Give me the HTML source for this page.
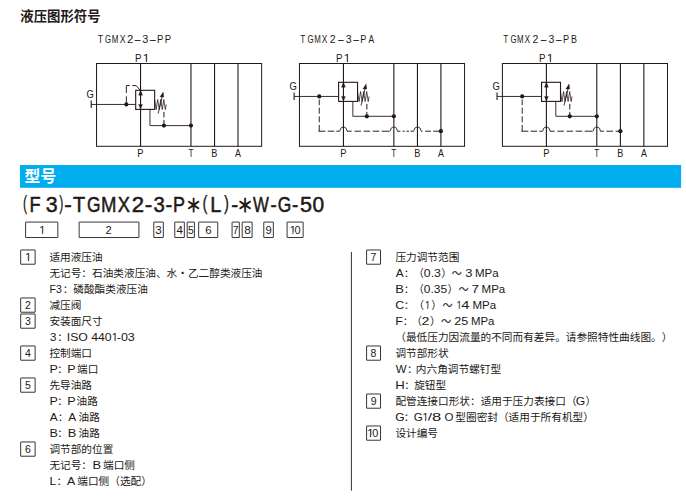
<!DOCTYPE html>
<html lang="zh-CN"><head><meta charset="utf-8"><title>型号</title>
<style>
html,body{margin:0;padding:0;background:#fff}
body{width:686px;height:503px;overflow:hidden;position:relative}
svg{position:absolute;left:0;top:0;display:block}
text{font-kerning:none;white-space:pre;text-spacing-trim:space-all}
</style></head><body>
<svg width="686" height="503" viewBox="0 0 686 503">
<text font-family='"Liberation Sans", "Noto Sans CJK SC", sans-serif' fill="#231815"><tspan x="20.30" y="21.20" font-size="13.4" font-weight="bold">液压图形符号</tspan></text>
<rect x="20" y="165" width="661.1" height="22.8" fill="#00adee"/>
<text font-family='"Liberation Sans", "Noto Sans CJK SC", sans-serif' fill="#231815"><tspan x="24.60" y="182.20" font-size="15.8" font-weight="bold" fill="#fff">型号</tspan></text>
<rect x="96.55" y="63.5" width="165.1" height="82.80" fill="none" stroke="#231815" stroke-width="1"/>
<line x1="140.55" y1="63.50" x2="140.55" y2="146.30" stroke="#231815" stroke-width="1.1" />
<line x1="190.95" y1="63.50" x2="190.95" y2="146.30" stroke="#231815" stroke-width="1.1" />
<line x1="214.55" y1="63.50" x2="214.55" y2="146.30" stroke="#231815" stroke-width="1.1" />
<line x1="238.00" y1="63.50" x2="238.00" y2="146.30" stroke="#231815" stroke-width="1.1" />
<rect x="135.70" y="90.30" width="18.95" height="19.10" fill="none" stroke="#231815" stroke-width="1.1"/>
<line x1="91.20" y1="100.45" x2="91.20" y2="107.95" stroke="#231815" stroke-width="1.1" />
<line x1="91.20" y1="104.45" x2="135.70" y2="104.45" stroke="#231815" stroke-width="0.9" />
<path d="M140.55,90.10 L138.60,95.30 L142.50,95.30 Z" stroke="#231815" stroke-width="0.3" fill="#231815" />
<path d="M140.55,109.10 L138.60,104.40 L142.50,104.40 Z" stroke="#231815" stroke-width="0.3" fill="#231815" />
<path d="M154.65,99.80 L156.18,109.60 L157.70,99.50 L159.22,109.60 L160.75,99.50 L162.28,109.60 L163.80,99.50 L165.33,109.60 L166.18,104.50" stroke="#231815" stroke-width="0.75" fill="none" stroke-linejoin="miter" stroke-miterlimit="10"/>
<line x1="158.15" y1="113.60" x2="162.25" y2="96.50" stroke="#231815" stroke-width="0.85" />
<path d="M163.20,91.90 L159.95,97.00 L163.85,97.10 Z" stroke="#231815" stroke-width="0.3" fill="#231815" />
<path d="M149.95,109.40 L149.95,125.60 L190.95,125.60" stroke="#231815" stroke-width="0.9" fill="none" />
<line x1="163.95" y1="111.90" x2="163.95" y2="125.60" stroke="#231815" stroke-width="1.0" stroke-dasharray="5.6 2.4"/>
<circle cx="163.95" cy="125.60" r="2.1" fill="#231815"/>
<circle cx="190.95" cy="125.60" r="2.1" fill="#231815"/>
<circle cx="126.35" cy="104.45" r="2.1" fill="#231815"/>
<path d="M126.35,104.45 L126.35,96.25 M126.35,92.95 L126.35,85.60 L129.75,85.60 M132.15,85.60 L136.20,85.60 L140.05,90.10" stroke="#231815" stroke-width="0.95" fill="none" stroke-linejoin="miter"/>
<text font-family='"Liberation Sans", "Noto Sans CJK SC", sans-serif' fill="#231815"><tspan x="97.82" y="43.10" font-size="10.4" textLength="5.46" lengthAdjust="spacingAndGlyphs">T</tspan><tspan x="104.91" y="43.10" font-size="10.4" textLength="6.05" lengthAdjust="spacingAndGlyphs">G</tspan><tspan x="111.66" y="43.10" font-size="10.4" textLength="6.68" lengthAdjust="spacingAndGlyphs">M</tspan><tspan x="119.70" y="43.10" font-size="10.4" textLength="5.87" lengthAdjust="spacingAndGlyphs">X</tspan><tspan x="127.13" y="43.10" font-size="10.4" textLength="6.31" lengthAdjust="spacingAndGlyphs">2</tspan><tspan x="133.57" y="43.10" font-size="10.4" textLength="8.06" lengthAdjust="spacingAndGlyphs">-</tspan><tspan x="142.39" y="43.10" font-size="10.4" textLength="6.08" lengthAdjust="spacingAndGlyphs">3</tspan><tspan x="148.87" y="43.10" font-size="10.4" textLength="8.06" lengthAdjust="spacingAndGlyphs">-</tspan><tspan x="157.04" y="43.10" font-size="10.4" textLength="6.36" lengthAdjust="spacingAndGlyphs">P</tspan><tspan x="164.74" y="43.10" font-size="10.4" textLength="6.36" lengthAdjust="spacingAndGlyphs">P</tspan></text>
<text font-family='"Liberation Sans", "Noto Sans CJK SC", sans-serif' fill="#231815"><tspan x="137.30" y="156.90" font-size="10.3" textLength="6.24" lengthAdjust="spacingAndGlyphs">P</tspan></text>
<text font-family='"Liberation Sans", "Noto Sans CJK SC", sans-serif' fill="#231815"><tspan x="188.44" y="156.90" font-size="10.3" textLength="5.03" lengthAdjust="spacingAndGlyphs">T</tspan></text>
<text font-family='"Liberation Sans", "Noto Sans CJK SC", sans-serif' fill="#231815"><tspan x="211.37" y="156.90" font-size="10.3" textLength="6.11" lengthAdjust="spacingAndGlyphs">B</tspan></text>
<text font-family='"Liberation Sans", "Noto Sans CJK SC", sans-serif' fill="#231815"><tspan x="235.05" y="156.90" font-size="10.3" textLength="5.92" lengthAdjust="spacingAndGlyphs">A</tspan></text>
<text font-family='"Liberation Sans", "Noto Sans CJK SC", sans-serif' fill="#231815"><tspan x="86.43" y="97.90" font-size="10.4" textLength="7.36" lengthAdjust="spacingAndGlyphs">G</tspan></text>
<text font-family='"Liberation Sans", "Noto Sans CJK SC", sans-serif' fill="#231815"><tspan x="135.12" y="61.85" font-size="10.5" textLength="6.49" lengthAdjust="spacingAndGlyphs">P</tspan><tspan x="142.82" y="61.85" font-size="10.5" textLength="6.85" lengthAdjust="spacingAndGlyphs">1</tspan></text>
<rect x="299.45" y="63.5" width="165.1" height="82.80" fill="none" stroke="#231815" stroke-width="1"/>
<line x1="343.45" y1="63.50" x2="343.45" y2="146.30" stroke="#231815" stroke-width="1.1" />
<line x1="393.85" y1="63.50" x2="393.85" y2="146.30" stroke="#231815" stroke-width="1.1" />
<line x1="417.45" y1="63.50" x2="417.45" y2="146.30" stroke="#231815" stroke-width="1.1" />
<line x1="440.90" y1="63.50" x2="440.90" y2="146.30" stroke="#231815" stroke-width="1.1" />
<rect x="338.60" y="82.30" width="18.95" height="19.10" fill="none" stroke="#231815" stroke-width="1.1"/>
<line x1="294.10" y1="92.45" x2="294.10" y2="99.95" stroke="#231815" stroke-width="1.1" />
<line x1="294.10" y1="96.45" x2="338.60" y2="96.45" stroke="#231815" stroke-width="0.9" />
<path d="M343.45,82.10 L341.50,87.30 L345.40,87.30 Z" stroke="#231815" stroke-width="0.3" fill="#231815" />
<path d="M343.45,101.10 L341.50,96.40 L345.40,96.40 Z" stroke="#231815" stroke-width="0.3" fill="#231815" />
<path d="M357.55,91.80 L359.07,101.60 L360.60,91.50 L362.12,101.60 L363.65,91.50 L365.18,101.60 L366.70,91.50 L368.23,101.60 L369.08,96.50" stroke="#231815" stroke-width="0.75" fill="none" stroke-linejoin="miter" stroke-miterlimit="10"/>
<line x1="361.05" y1="105.60" x2="365.15" y2="88.50" stroke="#231815" stroke-width="0.85" />
<path d="M366.10,83.90 L362.85,89.00 L366.75,89.10 Z" stroke="#231815" stroke-width="0.3" fill="#231815" />
<path d="M352.85,101.40 L352.85,116.30 L393.85,116.30" stroke="#231815" stroke-width="0.9" fill="none" />
<line x1="366.85" y1="103.90" x2="366.85" y2="116.30" stroke="#231815" stroke-width="1.0" stroke-dasharray="5.6 2.4"/>
<circle cx="366.85" cy="116.30" r="2.1" fill="#231815"/>
<circle cx="393.85" cy="116.30" r="2.1" fill="#231815"/>
<circle cx="319.25" cy="96.45" r="2.1" fill="#231815"/>
<path d="M319.25,131.20 L319.25,124.90 M319.25,122.30 L319.25,116.30 M319.25,113.70 L319.25,107.70 M319.25,105.20 L319.25,99.60 M319.25,97.50 L319.25,96.45 M318.45,131.20 L325.40,131.20 M327.70,131.20 L334.20,131.20 M336.30,131.20 L339.60,131.20 M347.00,131.20 L351.70,131.20 M354.50,131.20 L361.00,131.20 M363.70,131.20 L370.10,131.20 M372.70,131.20 L379.30,131.20 M381.70,131.20 L389.60,131.20 M397.40,131.20 L400.40,131.20 M402.60,131.20 L404.80,131.20 M406.40,131.20 L409.00,131.20 M410.60,131.20 L413.50,131.20 M421.20,131.20 L422.50,131.20 M425.20,131.20 L431.00,131.20 M433.20,131.20 L439.50,131.20" stroke="#231815" stroke-width="0.95" fill="none" />
<path d="M339.50,131.20 C340.30,131.10 340.10,129.00 340.85,128.15 C341.55,127.40 342.55,127.10 343.45,127.10 C344.35,127.10 345.35,127.40 346.05,128.15 C346.80,129.00 346.60,131.10 347.40,131.20" stroke="#231815" stroke-width="0.9" fill="none" />
<path d="M389.90,131.20 C390.70,131.10 390.50,129.00 391.25,128.15 C391.95,127.40 392.95,127.10 393.85,127.10 C394.75,127.10 395.75,127.40 396.45,128.15 C397.20,129.00 397.00,131.10 397.80,131.20" stroke="#231815" stroke-width="0.9" fill="none" />
<path d="M413.50,131.20 C414.30,131.10 414.10,129.00 414.85,128.15 C415.55,127.40 416.55,127.10 417.45,127.10 C418.35,127.10 419.35,127.40 420.05,128.15 C420.80,129.00 420.60,131.10 421.40,131.20" stroke="#231815" stroke-width="0.9" fill="none" />
<circle cx="440.90" cy="131.20" r="2.1" fill="#231815"/>
<text font-family='"Liberation Sans", "Noto Sans CJK SC", sans-serif' fill="#231815"><tspan x="300.34" y="43.10" font-size="10.4" textLength="5.03" lengthAdjust="spacingAndGlyphs">T</tspan><tspan x="307.61" y="43.10" font-size="10.4" textLength="6.05" lengthAdjust="spacingAndGlyphs">G</tspan><tspan x="314.27" y="43.10" font-size="10.4" textLength="6.56" lengthAdjust="spacingAndGlyphs">M</tspan><tspan x="321.71" y="43.10" font-size="10.4" textLength="5.66" lengthAdjust="spacingAndGlyphs">X</tspan><tspan x="329.78" y="43.10" font-size="10.4" textLength="5.82" lengthAdjust="spacingAndGlyphs">2</tspan><tspan x="337.02" y="43.10" font-size="10.4" textLength="7.66" lengthAdjust="spacingAndGlyphs">-</tspan><tspan x="345.81" y="43.10" font-size="10.4" textLength="5.84" lengthAdjust="spacingAndGlyphs">3</tspan><tspan x="352.32" y="43.10" font-size="10.4" textLength="7.66" lengthAdjust="spacingAndGlyphs">-</tspan><tspan x="360.27" y="43.10" font-size="10.4" textLength="6.11" lengthAdjust="spacingAndGlyphs">P</tspan><tspan x="368.50" y="43.10" font-size="10.4" textLength="5.62" lengthAdjust="spacingAndGlyphs">A</tspan></text>
<text font-family='"Liberation Sans", "Noto Sans CJK SC", sans-serif' fill="#231815"><tspan x="340.20" y="156.90" font-size="10.3" textLength="6.24" lengthAdjust="spacingAndGlyphs">P</tspan></text>
<text font-family='"Liberation Sans", "Noto Sans CJK SC", sans-serif' fill="#231815"><tspan x="391.34" y="156.90" font-size="10.3" textLength="5.03" lengthAdjust="spacingAndGlyphs">T</tspan></text>
<text font-family='"Liberation Sans", "Noto Sans CJK SC", sans-serif' fill="#231815"><tspan x="414.27" y="156.90" font-size="10.3" textLength="6.11" lengthAdjust="spacingAndGlyphs">B</tspan></text>
<text font-family='"Liberation Sans", "Noto Sans CJK SC", sans-serif' fill="#231815"><tspan x="437.95" y="156.90" font-size="10.3" textLength="5.92" lengthAdjust="spacingAndGlyphs">A</tspan></text>
<text font-family='"Liberation Sans", "Noto Sans CJK SC", sans-serif' fill="#231815"><tspan x="289.43" y="89.90" font-size="10.4" textLength="7.36" lengthAdjust="spacingAndGlyphs">G</tspan></text>
<text font-family='"Liberation Sans", "Noto Sans CJK SC", sans-serif' fill="#231815"><tspan x="336.12" y="61.85" font-size="10.5" textLength="6.49" lengthAdjust="spacingAndGlyphs">P</tspan><tspan x="343.84" y="61.85" font-size="10.5" textLength="6.73" lengthAdjust="spacingAndGlyphs">1</tspan></text>
<rect x="502.40" y="63.5" width="165.1" height="82.80" fill="none" stroke="#231815" stroke-width="1"/>
<line x1="546.40" y1="63.50" x2="546.40" y2="146.30" stroke="#231815" stroke-width="1.1" />
<line x1="596.80" y1="63.50" x2="596.80" y2="146.30" stroke="#231815" stroke-width="1.1" />
<line x1="620.40" y1="63.50" x2="620.40" y2="146.30" stroke="#231815" stroke-width="1.1" />
<line x1="643.85" y1="63.50" x2="643.85" y2="146.30" stroke="#231815" stroke-width="1.1" />
<rect x="541.55" y="82.30" width="18.95" height="19.10" fill="none" stroke="#231815" stroke-width="1.1"/>
<line x1="497.05" y1="92.45" x2="497.05" y2="99.95" stroke="#231815" stroke-width="1.1" />
<line x1="497.05" y1="96.45" x2="541.55" y2="96.45" stroke="#231815" stroke-width="0.9" />
<path d="M546.40,82.10 L544.45,87.30 L548.35,87.30 Z" stroke="#231815" stroke-width="0.3" fill="#231815" />
<path d="M546.40,101.10 L544.45,96.40 L548.35,96.40 Z" stroke="#231815" stroke-width="0.3" fill="#231815" />
<path d="M560.50,91.80 L562.02,101.60 L563.55,91.50 L565.08,101.60 L566.60,91.50 L568.12,101.60 L569.65,91.50 L571.17,101.60 L572.02,96.50" stroke="#231815" stroke-width="0.75" fill="none" stroke-linejoin="miter" stroke-miterlimit="10"/>
<line x1="564.00" y1="105.60" x2="568.10" y2="88.50" stroke="#231815" stroke-width="0.85" />
<path d="M569.05,83.90 L565.80,89.00 L569.70,89.10 Z" stroke="#231815" stroke-width="0.3" fill="#231815" />
<path d="M555.80,101.40 L555.80,116.30 L596.80,116.30" stroke="#231815" stroke-width="0.9" fill="none" />
<line x1="569.80" y1="103.90" x2="569.80" y2="116.30" stroke="#231815" stroke-width="1.0" stroke-dasharray="5.6 2.4"/>
<circle cx="569.80" cy="116.30" r="2.1" fill="#231815"/>
<circle cx="596.80" cy="116.30" r="2.1" fill="#231815"/>
<circle cx="522.20" cy="96.45" r="2.1" fill="#231815"/>
<path d="M522.20,131.20 L522.20,124.90 M522.20,122.30 L522.20,116.30 M522.20,113.70 L522.20,107.70 M522.20,105.20 L522.20,99.60 M522.20,97.50 L522.20,96.45 M521.40,131.20 L528.35,131.20 M530.65,131.20 L537.15,131.20 M539.25,131.20 L542.55,131.20 M549.95,131.20 L554.65,131.20 M557.45,131.20 L563.95,131.20 M566.65,131.20 L573.05,131.20 M575.65,131.20 L582.25,131.20 M584.65,131.20 L592.55,131.20 M600.35,131.20 L603.95,131.20 M606.45,131.20 L613.15,131.20 M615.65,131.20 L620.35,131.20" stroke="#231815" stroke-width="0.95" fill="none" />
<path d="M542.45,131.20 C543.25,131.10 543.05,129.00 543.80,128.15 C544.50,127.40 545.50,127.10 546.40,127.10 C547.30,127.10 548.30,127.40 549.00,128.15 C549.75,129.00 549.55,131.10 550.35,131.20" stroke="#231815" stroke-width="0.9" fill="none" />
<path d="M592.85,131.20 C593.65,131.10 593.45,129.00 594.20,128.15 C594.90,127.40 595.90,127.10 596.80,127.10 C597.70,127.10 598.70,127.40 599.40,128.15 C600.15,129.00 599.95,131.10 600.75,131.20" stroke="#231815" stroke-width="0.9" fill="none" />
<circle cx="620.40" cy="131.20" r="2.1" fill="#231815"/>
<text font-family='"Liberation Sans", "Noto Sans CJK SC", sans-serif' fill="#231815"><tspan x="503.14" y="43.10" font-size="10.4" textLength="5.03" lengthAdjust="spacingAndGlyphs">T</tspan><tspan x="510.41" y="43.10" font-size="10.4" textLength="6.05" lengthAdjust="spacingAndGlyphs">G</tspan><tspan x="517.07" y="43.10" font-size="10.4" textLength="6.56" lengthAdjust="spacingAndGlyphs">M</tspan><tspan x="524.51" y="43.10" font-size="10.4" textLength="5.66" lengthAdjust="spacingAndGlyphs">X</tspan><tspan x="532.58" y="43.10" font-size="10.4" textLength="5.82" lengthAdjust="spacingAndGlyphs">2</tspan><tspan x="539.82" y="43.10" font-size="10.4" textLength="7.66" lengthAdjust="spacingAndGlyphs">-</tspan><tspan x="548.61" y="43.10" font-size="10.4" textLength="5.84" lengthAdjust="spacingAndGlyphs">3</tspan><tspan x="555.12" y="43.10" font-size="10.4" textLength="7.66" lengthAdjust="spacingAndGlyphs">-</tspan><tspan x="563.07" y="43.10" font-size="10.4" textLength="6.11" lengthAdjust="spacingAndGlyphs">P</tspan><tspan x="570.98" y="43.10" font-size="10.4" textLength="5.99" lengthAdjust="spacingAndGlyphs">B</tspan></text>
<text font-family='"Liberation Sans", "Noto Sans CJK SC", sans-serif' fill="#231815"><tspan x="543.15" y="156.90" font-size="10.3" textLength="6.24" lengthAdjust="spacingAndGlyphs">P</tspan></text>
<text font-family='"Liberation Sans", "Noto Sans CJK SC", sans-serif' fill="#231815"><tspan x="594.29" y="156.90" font-size="10.3" textLength="5.03" lengthAdjust="spacingAndGlyphs">T</tspan></text>
<text font-family='"Liberation Sans", "Noto Sans CJK SC", sans-serif' fill="#231815"><tspan x="617.22" y="156.90" font-size="10.3" textLength="6.11" lengthAdjust="spacingAndGlyphs">B</tspan></text>
<text font-family='"Liberation Sans", "Noto Sans CJK SC", sans-serif' fill="#231815"><tspan x="640.90" y="156.90" font-size="10.3" textLength="5.92" lengthAdjust="spacingAndGlyphs">A</tspan></text>
<text font-family='"Liberation Sans", "Noto Sans CJK SC", sans-serif' fill="#231815"><tspan x="492.43" y="89.90" font-size="10.4" textLength="7.36" lengthAdjust="spacingAndGlyphs">G</tspan></text>
<text font-family='"Liberation Sans", "Noto Sans CJK SC", sans-serif' fill="#231815"><tspan x="539.12" y="61.85" font-size="10.5" textLength="6.49" lengthAdjust="spacingAndGlyphs">P</tspan><tspan x="546.84" y="61.85" font-size="10.5" textLength="6.73" lengthAdjust="spacingAndGlyphs">1</tspan></text>
<text font-family='"Liberation Sans", "Noto Sans CJK SC", sans-serif' fill="#231815"><tspan x="22.96" y="210.21" font-size="19.73" textLength="4.10" lengthAdjust="spacingAndGlyphs" stroke="#231815" stroke-width="0.25" stroke-linejoin="round">(</tspan><tspan x="29.59" y="212.30" font-size="22.0" textLength="11.15" lengthAdjust="spacingAndGlyphs" stroke="#231815" stroke-width="0.5" stroke-linejoin="round">F</tspan><tspan x="45.84" y="212.30" font-size="22.0" textLength="11.92" lengthAdjust="spacingAndGlyphs" stroke="#231815" stroke-width="0.5" stroke-linejoin="round">3</tspan><tspan x="59.34" y="210.21" font-size="19.73" textLength="4.10" lengthAdjust="spacingAndGlyphs" stroke="#231815" stroke-width="0.25" stroke-linejoin="round">)</tspan><tspan x="64.29" y="212.30" font-size="22.0" textLength="7.52" lengthAdjust="spacingAndGlyphs" stroke="#231815" stroke-width="0.5" stroke-linejoin="round">-</tspan><tspan x="73.05" y="212.30" font-size="22.0" textLength="12.20" lengthAdjust="spacingAndGlyphs" stroke="#231815" stroke-width="0.5" stroke-linejoin="round">T</tspan><tspan x="86.98" y="212.30" font-size="22.0" textLength="13.53" lengthAdjust="spacingAndGlyphs" stroke="#231815" stroke-width="0.5" stroke-linejoin="round">G</tspan><tspan x="101.06" y="212.30" font-size="22.0" textLength="15.47" lengthAdjust="spacingAndGlyphs" stroke="#231815" stroke-width="0.5" stroke-linejoin="round">M</tspan><tspan x="117.74" y="212.30" font-size="22.0" textLength="12.18" lengthAdjust="spacingAndGlyphs" stroke="#231815" stroke-width="0.5" stroke-linejoin="round">X</tspan><tspan x="131.74" y="212.30" font-size="22.0" textLength="12.37" lengthAdjust="spacingAndGlyphs" stroke="#231815" stroke-width="0.5" stroke-linejoin="round">2</tspan><tspan x="144.69" y="212.30" font-size="22.0" textLength="7.52" lengthAdjust="spacingAndGlyphs" stroke="#231815" stroke-width="0.5" stroke-linejoin="round">-</tspan><tspan x="153.58" y="212.30" font-size="22.0" textLength="11.33" lengthAdjust="spacingAndGlyphs" stroke="#231815" stroke-width="0.5" stroke-linejoin="round">3</tspan><tspan x="165.59" y="212.30" font-size="22.0" textLength="6.72" lengthAdjust="spacingAndGlyphs" stroke="#231815" stroke-width="0.5" stroke-linejoin="round">-</tspan><tspan x="173.11" y="212.30" font-size="22.0" textLength="11.98" lengthAdjust="spacingAndGlyphs" stroke="#231815" stroke-width="0.5" stroke-linejoin="round">P</tspan><tspan x="185.90" y="212.45" font-size="18.2" stroke="#231815" stroke-width="0.9" textLength="15.16" lengthAdjust="spacingAndGlyphs">＊</tspan><tspan x="202.60" y="210.21" font-size="19.73" textLength="4.97" lengthAdjust="spacingAndGlyphs" stroke="#231815" stroke-width="0.25" stroke-linejoin="round">(</tspan><tspan x="210.15" y="212.30" font-size="22.0" textLength="11.10" lengthAdjust="spacingAndGlyphs" stroke="#231815" stroke-width="0.5" stroke-linejoin="round">L</tspan><tspan x="224.03" y="210.21" font-size="19.73" textLength="4.97" lengthAdjust="spacingAndGlyphs" stroke="#231815" stroke-width="0.25" stroke-linejoin="round">)</tspan><tspan x="231.16" y="212.30" font-size="22.0" textLength="6.99" lengthAdjust="spacingAndGlyphs" stroke="#231815" stroke-width="0.5" stroke-linejoin="round">-</tspan><tspan x="237.33" y="212.45" font-size="18.2" stroke="#231815" stroke-width="0.9" textLength="15.60" lengthAdjust="spacingAndGlyphs">＊</tspan><tspan x="253.11" y="212.30" font-size="22.0" textLength="15.88" lengthAdjust="spacingAndGlyphs" stroke="#231815" stroke-width="0.5" stroke-linejoin="round">W</tspan><tspan x="270.46" y="212.30" font-size="22.0" textLength="6.18" lengthAdjust="spacingAndGlyphs" stroke="#231815" stroke-width="0.5" stroke-linejoin="round">-</tspan><tspan x="277.78" y="212.30" font-size="22.0" textLength="13.53" lengthAdjust="spacingAndGlyphs" stroke="#231815" stroke-width="0.5" stroke-linejoin="round">G</tspan><tspan x="291.94" y="212.30" font-size="22.0" textLength="6.31" lengthAdjust="spacingAndGlyphs" stroke="#231815" stroke-width="0.5" stroke-linejoin="round">-</tspan><tspan x="299.88" y="212.30" font-size="22.0" textLength="12.03" lengthAdjust="spacingAndGlyphs" stroke="#231815" stroke-width="0.5" stroke-linejoin="round">5</tspan><tspan x="312.56" y="212.30" font-size="22.0" textLength="11.68" lengthAdjust="spacingAndGlyphs" stroke="#231815" stroke-width="0.5" stroke-linejoin="round">0</tspan></text>
<rect x="25.58" y="222.07" width="32.25" height="15.45" rx="0.15" fill="none" stroke="#2e2a29" stroke-width="0.95"/>
<text font-family='"Liberation Sans", "Noto Sans CJK SC", sans-serif' fill="#231815"><tspan x="39.33" y="233.80" font-size="11.7" textLength="6.16" lengthAdjust="spacingAndGlyphs">1</tspan></text>
<rect x="79.17" y="222.07" width="59.75" height="15.45" rx="0.15" fill="none" stroke="#2e2a29" stroke-width="0.95"/>
<text font-family='"Liberation Sans", "Noto Sans CJK SC", sans-serif' fill="#231815"><tspan x="105.44" y="233.80" font-size="11.7" textLength="6.19" lengthAdjust="spacingAndGlyphs">2</tspan></text>
<rect x="153.78" y="222.07" width="9.55" height="15.45" rx="0.15" fill="none" stroke="#2e2a29" stroke-width="0.95"/>
<text font-family='"Liberation Sans", "Noto Sans CJK SC", sans-serif' fill="#231815"><tspan x="155.37" y="233.80" font-size="11.7" textLength="6.43" lengthAdjust="spacingAndGlyphs">3</tspan></text>
<rect x="174.78" y="222.07" width="9.55" height="15.45" rx="0.15" fill="none" stroke="#2e2a29" stroke-width="0.95"/>
<text font-family='"Liberation Sans", "Noto Sans CJK SC", sans-serif' fill="#231815"><tspan x="176.54" y="233.80" font-size="11.7" textLength="6.48" lengthAdjust="spacingAndGlyphs">4</tspan></text>
<rect x="187.17" y="222.07" width="7.25" height="15.45" rx="0.15" fill="none" stroke="#2e2a29" stroke-width="0.95"/>
<text font-family='"Liberation Sans", "Noto Sans CJK SC", sans-serif' fill="#231815"><tspan x="188.09" y="233.80" font-size="11.7" textLength="5.73" lengthAdjust="spacingAndGlyphs">5</tspan></text>
<rect x="198.67" y="222.07" width="19.05" height="15.45" rx="0.15" fill="none" stroke="#2e2a29" stroke-width="0.95"/>
<text font-family='"Liberation Sans", "Noto Sans CJK SC", sans-serif' fill="#231815"><tspan x="205.13" y="233.80" font-size="11.7" textLength="6.36" lengthAdjust="spacingAndGlyphs">6</tspan></text>
<rect x="232.07" y="222.07" width="7.25" height="15.45" rx="0.15" fill="none" stroke="#2e2a29" stroke-width="0.95"/>
<text font-family='"Liberation Sans", "Noto Sans CJK SC", sans-serif' fill="#231815"><tspan x="232.68" y="233.80" font-size="11.7" textLength="5.82" lengthAdjust="spacingAndGlyphs">7</tspan></text>
<rect x="242.17" y="222.07" width="9.95" height="15.45" rx="0.15" fill="none" stroke="#2e2a29" stroke-width="0.95"/>
<text font-family='"Liberation Sans", "Noto Sans CJK SC", sans-serif' fill="#231815"><tspan x="244.20" y="233.80" font-size="11.7" textLength="6.58" lengthAdjust="spacingAndGlyphs">8</tspan></text>
<rect x="263.78" y="222.07" width="9.55" height="15.45" rx="0.15" fill="none" stroke="#2e2a29" stroke-width="0.95"/>
<text font-family='"Liberation Sans", "Noto Sans CJK SC", sans-serif' fill="#231815"><tspan x="265.50" y="233.80" font-size="11.7" textLength="6.21" lengthAdjust="spacingAndGlyphs">9</tspan></text>
<rect x="287.08" y="222.07" width="16.05" height="15.45" rx="0.15" fill="none" stroke="#2e2a29" stroke-width="0.95"/>
<text font-family='"Liberation Sans", "Noto Sans CJK SC", sans-serif' fill="#231815"><tspan x="289.63" y="233.80" font-size="11.7" textLength="6.16" lengthAdjust="spacingAndGlyphs">1</tspan><tspan x="294.39" y="233.80" font-size="11.7" textLength="6.07" lengthAdjust="spacingAndGlyphs">0</tspan></text>
<rect x="20.68" y="249.98" width="14.45" height="14.25" rx="0.15" fill="none" stroke="#2e2a29" stroke-width="0.95"/>
<text font-family='"Liberation Sans", "Noto Sans CJK SC", sans-serif' fill="#231815"><tspan x="25.12" y="261.00" font-size="11.7" textLength="6.51" lengthAdjust="spacingAndGlyphs">1</tspan></text>
<rect x="20.68" y="297.98" width="14.45" height="14.25" rx="0.15" fill="none" stroke="#2e2a29" stroke-width="0.95"/>
<text font-family='"Liberation Sans", "Noto Sans CJK SC", sans-serif' fill="#231815"><tspan x="24.96" y="309.00" font-size="11.7" textLength="5.84" lengthAdjust="spacingAndGlyphs">2</tspan></text>
<rect x="20.68" y="313.98" width="14.45" height="14.25" rx="0.15" fill="none" stroke="#2e2a29" stroke-width="0.95"/>
<text font-family='"Liberation Sans", "Noto Sans CJK SC", sans-serif' fill="#231815"><tspan x="25.00" y="325.00" font-size="11.7" textLength="5.84" lengthAdjust="spacingAndGlyphs">3</tspan></text>
<rect x="20.68" y="345.98" width="14.45" height="14.25" rx="0.15" fill="none" stroke="#2e2a29" stroke-width="0.95"/>
<text font-family='"Liberation Sans", "Noto Sans CJK SC", sans-serif' fill="#231815"><tspan x="25.00" y="357.00" font-size="11.7" textLength="5.84" lengthAdjust="spacingAndGlyphs">4</tspan></text>
<rect x="20.68" y="377.98" width="14.45" height="14.25" rx="0.15" fill="none" stroke="#2e2a29" stroke-width="0.95"/>
<text font-family='"Liberation Sans", "Noto Sans CJK SC", sans-serif' fill="#231815"><tspan x="24.98" y="389.00" font-size="11.7" textLength="5.84" lengthAdjust="spacingAndGlyphs">5</tspan></text>
<rect x="20.68" y="441.98" width="14.45" height="14.25" rx="0.15" fill="none" stroke="#2e2a29" stroke-width="0.95"/>
<text font-family='"Liberation Sans", "Noto Sans CJK SC", sans-serif' fill="#231815"><tspan x="24.94" y="453.00" font-size="11.7" textLength="5.84" lengthAdjust="spacingAndGlyphs">6</tspan></text>
<text font-family='"Liberation Sans", "Noto Sans CJK SC", sans-serif' fill="#231815"><tspan x="49.40" y="261.20" font-size="10.67">适用液压油</tspan></text>
<text font-family='"Liberation Sans", "Noto Sans CJK SC", sans-serif' fill="#231815"><tspan x="49.40" y="277.20" font-size="10.67">无记号：石油类液压油、水・乙二醇类液压油</tspan></text>
<text font-family='"Liberation Sans", "Noto Sans CJK SC", sans-serif' fill="#231815"><tspan x="49.46" y="293.20" font-size="11.6" textLength="12.29" lengthAdjust="spacingAndGlyphs">F3</tspan><tspan x="62.63" y="293.20" font-size="10.67">：磷酸酯类液压油</tspan></text>
<text font-family='"Liberation Sans", "Noto Sans CJK SC", sans-serif' fill="#231815"><tspan x="49.40" y="309.20" font-size="10.67">减压阀</tspan></text>
<text font-family='"Liberation Sans", "Noto Sans CJK SC", sans-serif' fill="#231815"><tspan x="49.40" y="325.20" font-size="10.67">安装面尺寸</tspan></text>
<text font-family='"Liberation Sans", "Noto Sans CJK SC", sans-serif' fill="#231815"><tspan x="49.97" y="341.20" font-size="11.6" textLength="6.43" lengthAdjust="spacingAndGlyphs">3</tspan><tspan x="57.26" y="341.20" font-size="10.67">：</tspan><tspan x="66.75" y="341.20" font-size="11.6" textLength="44.91" lengthAdjust="spacingAndGlyphs">ISO 440</tspan><tspan x="111.83" y="341.20" font-size="11.6" textLength="6.16" lengthAdjust="spacingAndGlyphs">1</tspan><tspan x="116.77" y="341.20" font-size="11.6" textLength="18.06" lengthAdjust="spacingAndGlyphs">-03</tspan></text>
<text font-family='"Liberation Sans", "Noto Sans CJK SC", sans-serif' fill="#231815"><tspan x="49.40" y="357.20" font-size="10.67">控制端口</tspan></text>
<text font-family='"Liberation Sans", "Noto Sans CJK SC", sans-serif' fill="#231815"><tspan x="49.40" y="373.20" font-size="11.6" textLength="8.36" lengthAdjust="spacingAndGlyphs">P</tspan><tspan x="57.26" y="373.20" font-size="10.67">：</tspan><tspan x="67.30" y="373.20" font-size="11.6" textLength="8.36" lengthAdjust="spacingAndGlyphs">P</tspan><tspan> </tspan><tspan x="77.05" y="373.20" font-size="10.67">端口</tspan></text>
<text font-family='"Liberation Sans", "Noto Sans CJK SC", sans-serif' fill="#231815"><tspan x="49.40" y="389.20" font-size="10.67">先导油路</tspan></text>
<text font-family='"Liberation Sans", "Noto Sans CJK SC", sans-serif' fill="#231815"><tspan x="49.40" y="405.20" font-size="11.6" textLength="8.36" lengthAdjust="spacingAndGlyphs">P</tspan><tspan x="57.26" y="405.20" font-size="10.67">：</tspan><tspan x="67.30" y="405.20" font-size="11.6" textLength="8.36" lengthAdjust="spacingAndGlyphs">P</tspan><tspan> </tspan><tspan x="76.57" y="405.20" font-size="10.67">油路</tspan></text>
<text font-family='"Liberation Sans", "Noto Sans CJK SC", sans-serif' fill="#231815"><tspan x="49.70" y="421.20" font-size="11.6" textLength="7.93" lengthAdjust="spacingAndGlyphs">A</tspan><tspan x="57.76" y="421.20" font-size="10.67">：</tspan><tspan x="68.30" y="421.20" font-size="11.6" textLength="7.93" lengthAdjust="spacingAndGlyphs">A</tspan><tspan> </tspan><tspan x="78.47" y="421.20" font-size="10.67">油路</tspan></text>
<text font-family='"Liberation Sans", "Noto Sans CJK SC", sans-serif' fill="#231815"><tspan x="49.40" y="437.20" font-size="11.6" textLength="8.36" lengthAdjust="spacingAndGlyphs">B</tspan><tspan x="57.26" y="437.20" font-size="10.67">：</tspan><tspan x="67.77" y="437.20" font-size="11.6" textLength="8.61" lengthAdjust="spacingAndGlyphs">B</tspan><tspan> </tspan><tspan x="78.47" y="437.20" font-size="10.67">油路</tspan></text>
<text font-family='"Liberation Sans", "Noto Sans CJK SC", sans-serif' fill="#231815"><tspan x="49.40" y="453.20" font-size="10.67">调节部的位置</tspan></text>
<text font-family='"Liberation Sans", "Noto Sans CJK SC", sans-serif' fill="#231815"><tspan x="49.40" y="469.20" font-size="10.67">无记号：</tspan><tspan x="92.57" y="469.20" font-size="11.6" textLength="8.61" lengthAdjust="spacingAndGlyphs">B</tspan><tspan> </tspan><tspan x="103.05" y="469.20" font-size="10.67">端口侧</tspan></text>
<text font-family='"Liberation Sans", "Noto Sans CJK SC", sans-serif' fill="#231815"><tspan x="49.41" y="485.20" font-size="11.6" textLength="6.86" lengthAdjust="spacingAndGlyphs">L</tspan><tspan x="56.56" y="485.20" font-size="10.67">：</tspan><tspan x="67.00" y="485.20" font-size="11.6" textLength="8.23" lengthAdjust="spacingAndGlyphs">A</tspan><tspan> </tspan><tspan x="77.25" y="485.20" font-size="10.67">端口侧（选配）</tspan></text>
<line x1="351.40" y1="252.00" x2="351.40" y2="490.70" stroke="#231815" stroke-width="0.9" />
<rect x="366.58" y="249.98" width="13.95" height="14.25" rx="0.15" fill="none" stroke="#2e2a29" stroke-width="0.95"/>
<text font-family='"Liberation Sans", "Noto Sans CJK SC", sans-serif' fill="#231815"><tspan x="370.61" y="261.00" font-size="11.7" textLength="5.84" lengthAdjust="spacingAndGlyphs">7</tspan></text>
<rect x="366.58" y="345.98" width="13.95" height="14.25" rx="0.15" fill="none" stroke="#2e2a29" stroke-width="0.95"/>
<text font-family='"Liberation Sans", "Noto Sans CJK SC", sans-serif' fill="#231815"><tspan x="370.61" y="357.00" font-size="11.7" textLength="5.84" lengthAdjust="spacingAndGlyphs">8</tspan></text>
<rect x="366.58" y="393.98" width="13.95" height="14.25" rx="0.15" fill="none" stroke="#2e2a29" stroke-width="0.95"/>
<text font-family='"Liberation Sans", "Noto Sans CJK SC", sans-serif' fill="#231815"><tspan x="370.63" y="405.00" font-size="11.7" textLength="5.84" lengthAdjust="spacingAndGlyphs">9</tspan></text>
<rect x="366.58" y="425.98" width="13.95" height="14.25" rx="0.15" fill="none" stroke="#2e2a29" stroke-width="0.95"/>
<text font-family='"Liberation Sans", "Noto Sans CJK SC", sans-serif' fill="#231815"><tspan x="366.92" y="437.00" font-size="11.7" textLength="6.85" lengthAdjust="spacingAndGlyphs">1</tspan><tspan x="372.24" y="437.00" font-size="11.7" textLength="6.07" lengthAdjust="spacingAndGlyphs">0</tspan></text>
<text font-family='"Liberation Sans", "Noto Sans CJK SC", sans-serif' fill="#231815"><tspan x="395.40" y="261.20" font-size="10.67">压力调节范围</tspan></text>
<text font-family='"Liberation Sans", "Noto Sans CJK SC", sans-serif' fill="#231815"><tspan x="395.80" y="277.20" font-size="11.6" textLength="7.93" lengthAdjust="spacingAndGlyphs">A</tspan><tspan x="403.86" y="277.20" font-size="10.67">：</tspan><tspan x="413.21" y="277.20" font-size="10.67">（</tspan><tspan x="423.84" y="277.20" font-size="11.6" textLength="17.09" lengthAdjust="spacingAndGlyphs">0.3</tspan><tspan x="441.22" y="277.20" font-size="10.67">）</tspan><tspan x="451.80" y="277.20" font-size="10.67" stroke="#231815" stroke-width="0.18" textLength="10.00" lengthAdjust="spacingAndGlyphs">～</tspan><tspan x="465.21" y="277.20" font-size="11.6" textLength="7.24" lengthAdjust="spacingAndGlyphs">3</tspan><tspan> </tspan><tspan x="474.98" y="277.20" font-size="11.6" textLength="23.69" lengthAdjust="spacingAndGlyphs">MPa</tspan></text>
<text font-family='"Liberation Sans", "Noto Sans CJK SC", sans-serif' fill="#231815"><tspan x="395.27" y="293.20" font-size="11.6" textLength="8.61" lengthAdjust="spacingAndGlyphs">B</tspan><tspan x="403.86" y="293.20" font-size="10.67">：</tspan><tspan x="413.21" y="293.20" font-size="10.67">（</tspan><tspan x="423.85" y="293.20" font-size="11.6" textLength="23.23" lengthAdjust="spacingAndGlyphs">0.35</tspan><tspan x="447.42" y="293.20" font-size="10.67">）</tspan><tspan x="458.71" y="293.20" font-size="10.67" stroke="#231815" stroke-width="0.18" textLength="9.78" lengthAdjust="spacingAndGlyphs">～</tspan><tspan x="471.42" y="293.20" font-size="11.6" textLength="7.52" lengthAdjust="spacingAndGlyphs">7</tspan><tspan> </tspan><tspan x="481.58" y="293.20" font-size="11.6" textLength="23.69" lengthAdjust="spacingAndGlyphs">MPa</tspan></text>
<text font-family='"Liberation Sans", "Noto Sans CJK SC", sans-serif' fill="#231815"><tspan x="395.18" y="309.20" font-size="11.6" textLength="8.99" lengthAdjust="spacingAndGlyphs">C</tspan><tspan x="403.86" y="309.20" font-size="10.67">：</tspan><tspan x="413.51" y="309.20" font-size="10.67">（</tspan><tspan x="424.89" y="309.20" font-size="11.6" textLength="5.25" lengthAdjust="spacingAndGlyphs">1</tspan><tspan x="431.22" y="309.20" font-size="10.67">）</tspan><tspan x="442.60" y="309.20" font-size="10.67" stroke="#231815" stroke-width="0.18" textLength="10.00" lengthAdjust="spacingAndGlyphs">～</tspan><tspan x="456.39" y="309.20" font-size="11.6" textLength="5.25" lengthAdjust="spacingAndGlyphs">1</tspan><tspan x="461.27" y="309.20" font-size="11.6" textLength="8.24" lengthAdjust="spacingAndGlyphs">4</tspan><tspan> </tspan><tspan x="472.48" y="309.20" font-size="11.6" textLength="23.69" lengthAdjust="spacingAndGlyphs">MPa</tspan></text>
<text font-family='"Liberation Sans", "Noto Sans CJK SC", sans-serif' fill="#231815"><tspan x="395.29" y="325.20" font-size="11.6" textLength="7.68" lengthAdjust="spacingAndGlyphs">F</tspan><tspan x="402.66" y="325.20" font-size="10.67">：</tspan><tspan x="411.21" y="325.20" font-size="10.67">（</tspan><tspan x="421.59" y="325.20" font-size="11.6" textLength="7.89" lengthAdjust="spacingAndGlyphs">2</tspan><tspan x="430.02" y="325.20" font-size="10.67">）</tspan><tspan x="440.89" y="325.20" font-size="10.67" stroke="#231815" stroke-width="0.18" textLength="10.22" lengthAdjust="spacingAndGlyphs">～</tspan><tspan x="454.17" y="325.20" font-size="11.6" textLength="14.04" lengthAdjust="spacingAndGlyphs">25</tspan><tspan> </tspan><tspan x="470.99" y="325.20" font-size="11.6" textLength="23.38" lengthAdjust="spacingAndGlyphs">MPa</tspan></text>
<text font-family='"Liberation Sans", "Noto Sans CJK SC", sans-serif' fill="#231815"><tspan x="395.30" y="341.20" font-size="10.67">（最低压力因流量的不同而有差异。请参照特性曲线图。）</tspan></text>
<text font-family='"Liberation Sans", "Noto Sans CJK SC", sans-serif' fill="#231815"><tspan x="395.40" y="357.20" font-size="10.67">调节部形状</tspan></text>
<text font-family='"Liberation Sans", "Noto Sans CJK SC", sans-serif' fill="#231815"><tspan x="395.77" y="373.20" font-size="11.6" textLength="10.76" lengthAdjust="spacingAndGlyphs">W</tspan><tspan x="407.06" y="373.20" font-size="10.67">：</tspan><tspan x="415.86" y="373.20" font-size="10.67">内六角调节螺钉型</tspan></text>
<text font-family='"Liberation Sans", "Noto Sans CJK SC", sans-serif' fill="#231815"><tspan x="395.25" y="389.20" font-size="11.6" textLength="9.50" lengthAdjust="spacingAndGlyphs">H</tspan><tspan x="404.36" y="389.20" font-size="10.67">：</tspan><tspan x="414.13" y="389.20" font-size="10.67">旋钮型</tspan></text>
<text font-family='"Liberation Sans", "Noto Sans CJK SC", sans-serif' fill="#231815"><tspan x="395.40" y="405.20" font-size="10.67">配管连接口形状：适用于压力表接口（</tspan><tspan x="575.89" y="405.20" font-size="11.6" textLength="9.50" lengthAdjust="spacingAndGlyphs">G</tspan><tspan x="585.52" y="405.20" font-size="10.67">）</tspan></text>
<text font-family='"Liberation Sans", "Noto Sans CJK SC", sans-serif' fill="#231815"><tspan x="395.20" y="421.20" font-size="11.6" textLength="9.38" lengthAdjust="spacingAndGlyphs">G</tspan><tspan x="403.86" y="421.20" font-size="10.67">：</tspan><tspan x="413.72" y="421.20" font-size="11.6" textLength="9.02" lengthAdjust="spacingAndGlyphs">G</tspan><tspan x="422.47" y="421.20" font-size="11.6" textLength="5.93" lengthAdjust="spacingAndGlyphs">1</tspan><tspan x="427.40" y="421.20" font-size="11.6" textLength="13.76" lengthAdjust="spacingAndGlyphs">/8</tspan><tspan> </tspan><tspan x="444.58" y="421.20" font-size="11.6" textLength="8.97" lengthAdjust="spacingAndGlyphs">O</tspan><tspan> </tspan><tspan x="455.32" y="421.20" font-size="10.67">型圈密封（适用于所有机型）</tspan></text>
<text font-family='"Liberation Sans", "Noto Sans CJK SC", sans-serif' fill="#231815"><tspan x="395.40" y="437.20" font-size="10.67">设计编号</tspan></text>
<rect x="143.15" y="60.62" width="2.76" height="1.78" fill="#fff"/>
<rect x="147.00" y="60.62" width="2.66" height="1.78" fill="#fff"/>
<rect x="344.16" y="60.62" width="2.72" height="1.78" fill="#fff"/>
<rect x="347.95" y="60.62" width="2.63" height="1.78" fill="#fff"/>
<rect x="547.16" y="60.62" width="2.72" height="1.78" fill="#fff"/>
<rect x="550.95" y="60.62" width="2.63" height="1.78" fill="#fff"/>
<rect x="39.58" y="232.48" width="2.54" height="1.87" fill="#fff"/>
<rect x="43.10" y="232.48" width="2.46" height="1.87" fill="#fff"/>
<rect x="289.88" y="232.48" width="2.54" height="1.87" fill="#fff"/>
<rect x="293.40" y="232.48" width="2.46" height="1.87" fill="#fff"/>
<rect x="25.42" y="259.68" width="2.65" height="1.87" fill="#fff"/>
<rect x="29.10" y="259.68" width="2.56" height="1.87" fill="#fff"/>
<rect x="112.08" y="339.88" width="2.54" height="1.87" fill="#fff"/>
<rect x="115.60" y="339.88" width="2.46" height="1.87" fill="#fff"/>
<rect x="367.25" y="435.68" width="2.76" height="1.87" fill="#fff"/>
<rect x="371.10" y="435.68" width="2.66" height="1.87" fill="#fff"/>
<rect x="425.01" y="307.88" width="2.25" height="1.87" fill="#fff"/>
<rect x="428.10" y="307.88" width="2.18" height="1.87" fill="#fff"/>
<rect x="456.51" y="307.88" width="2.25" height="1.87" fill="#fff"/>
<rect x="459.60" y="307.88" width="2.18" height="1.87" fill="#fff"/>
<rect x="422.69" y="419.88" width="2.47" height="1.87" fill="#fff"/>
<rect x="426.10" y="419.88" width="2.39" height="1.87" fill="#fff"/>
</svg>
</body></html>
